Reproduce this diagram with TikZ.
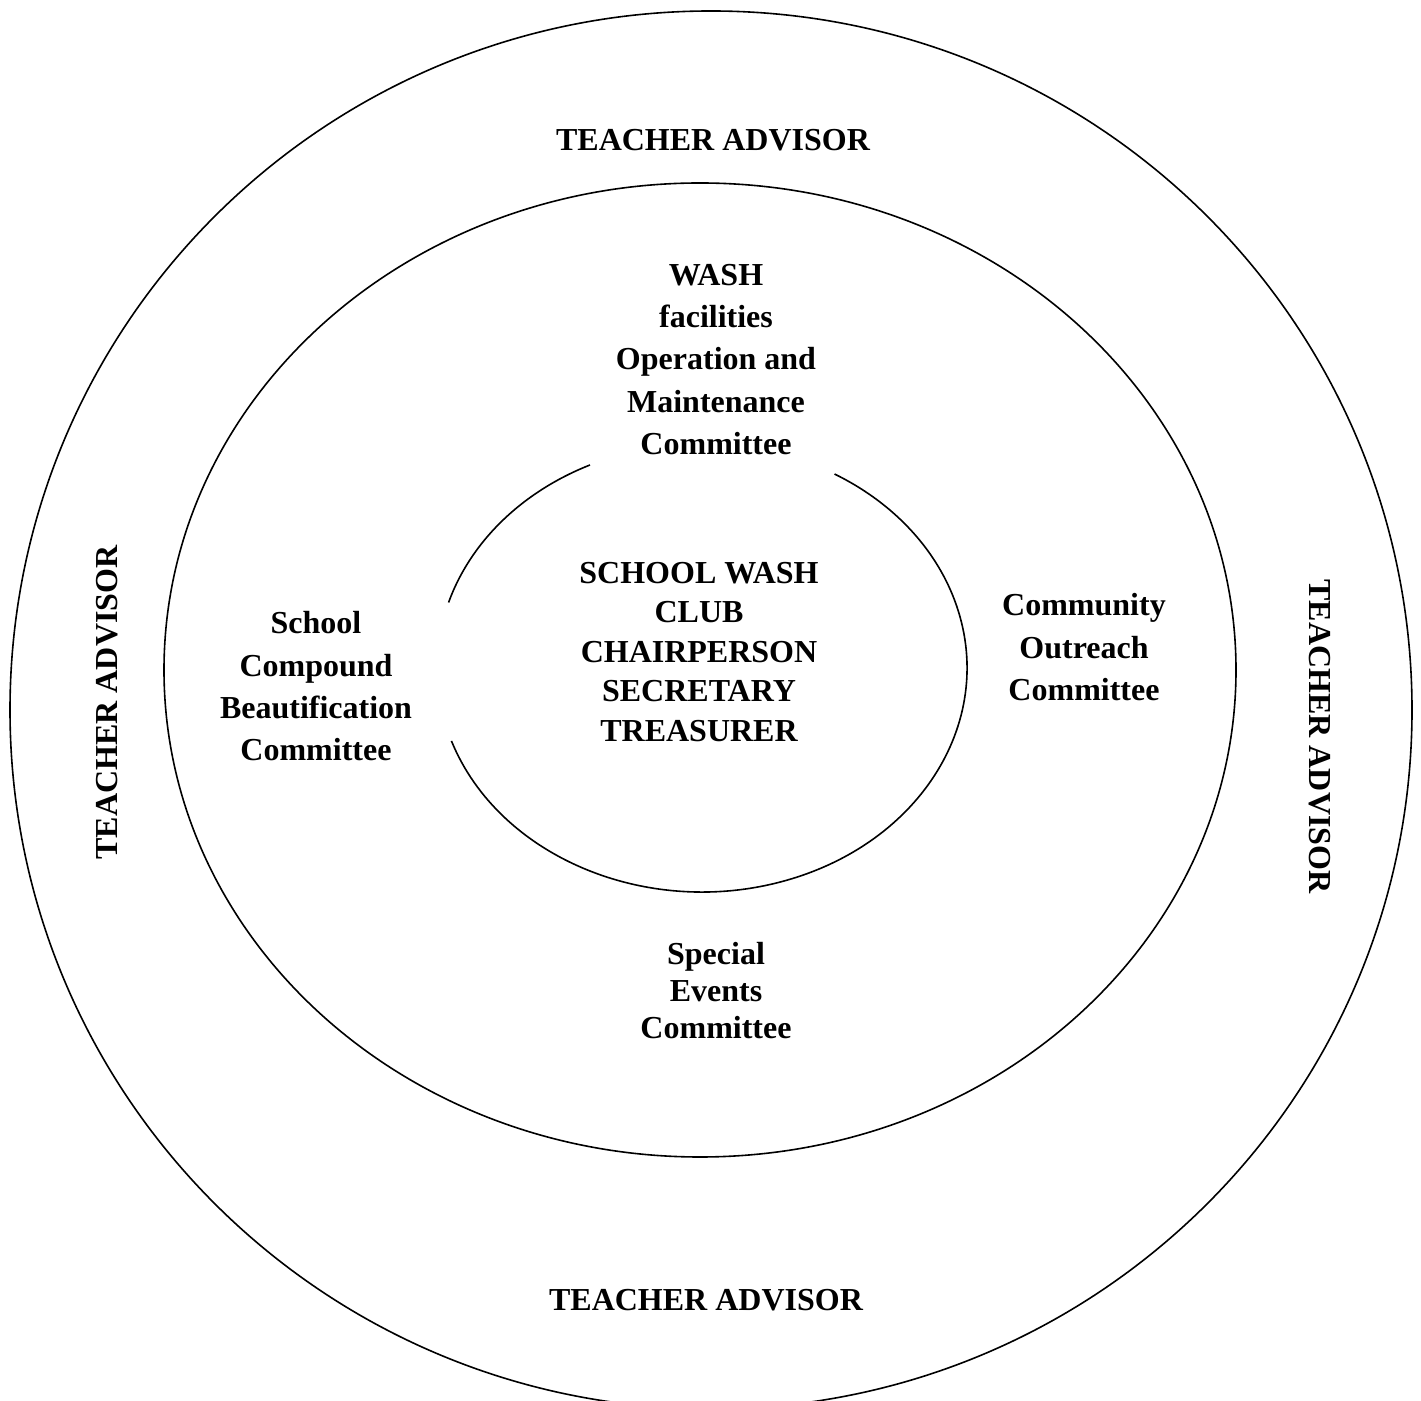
\documentclass[tikz,border=0pt]{standalone}
\usepackage{fontspec}
\setmainfont{Liberation Serif}
\begin{document}
\begin{tikzpicture}[x=1pt,y=1pt,
  ring/.style={line width=1.6pt,draw=black},
  lbl/.style={inner sep=0pt,align=center,font=\bfseries\fontsize{32}{42.3}\selectfont}]
\useasboundingbox (0,0) rectangle (1421,1400);
\clip (0,0) rectangle (1421,1400);
\coordinate (outerc) at (711,690);
\coordinate (midc) at (700,730);
\coordinate (innerc) at (702,732);
\draw[ring] (outerc) ellipse[x radius=701pt,y radius=699pt];
\draw[ring] (midc) ellipse[x radius=536pt,y radius=487pt];
\draw[ring] ([shift={(115:265pt and 224pt)}]innerc) arc[start angle=115,end angle=163,x radius=265pt,y radius=224pt];
\draw[ring] ([shift={(199:265pt and 224pt)}]innerc) arc[start angle=199,end angle=420,x radius=265pt,y radius=224pt];
\node[lbl] (wash) at (716,1040.5) {WASH\\facilities\\Operation and\\Maintenance\\Committee};
\node[lbl,font=\bfseries\fontsize{32}{39.5}\selectfont] (club) at (699,748) {SCHOOL WASH\\CLUB\\CHAIRPERSON\\SECRETARY\\TREASURER};
\node[lbl] (beaut) at (316,713.5) {School\\Compound\\Beautification\\Committee};
\node[lbl,font=\bfseries\fontsize{32}{42.5}\selectfont] (outreach) at (1084,752.5) {Community\\Outreach\\Committee};
\node[lbl,font=\bfseries\fontsize{32}{37}\selectfont] (events) at (716,409) {Special\\Events\\Committee};
\node[lbl] (tatop) at (713,1260) {TEACHER ADVISOR};
\node[lbl] (tabot) at (706,100) {TEACHER ADVISOR};
\node[lbl,rotate=90] (taleft) at (107,697.5) {TEACHER ADVISOR};
\node[lbl,rotate=-90] (taright) at (1320,663.5) {TEACHER ADVISOR};
\end{tikzpicture}
\end{document}
